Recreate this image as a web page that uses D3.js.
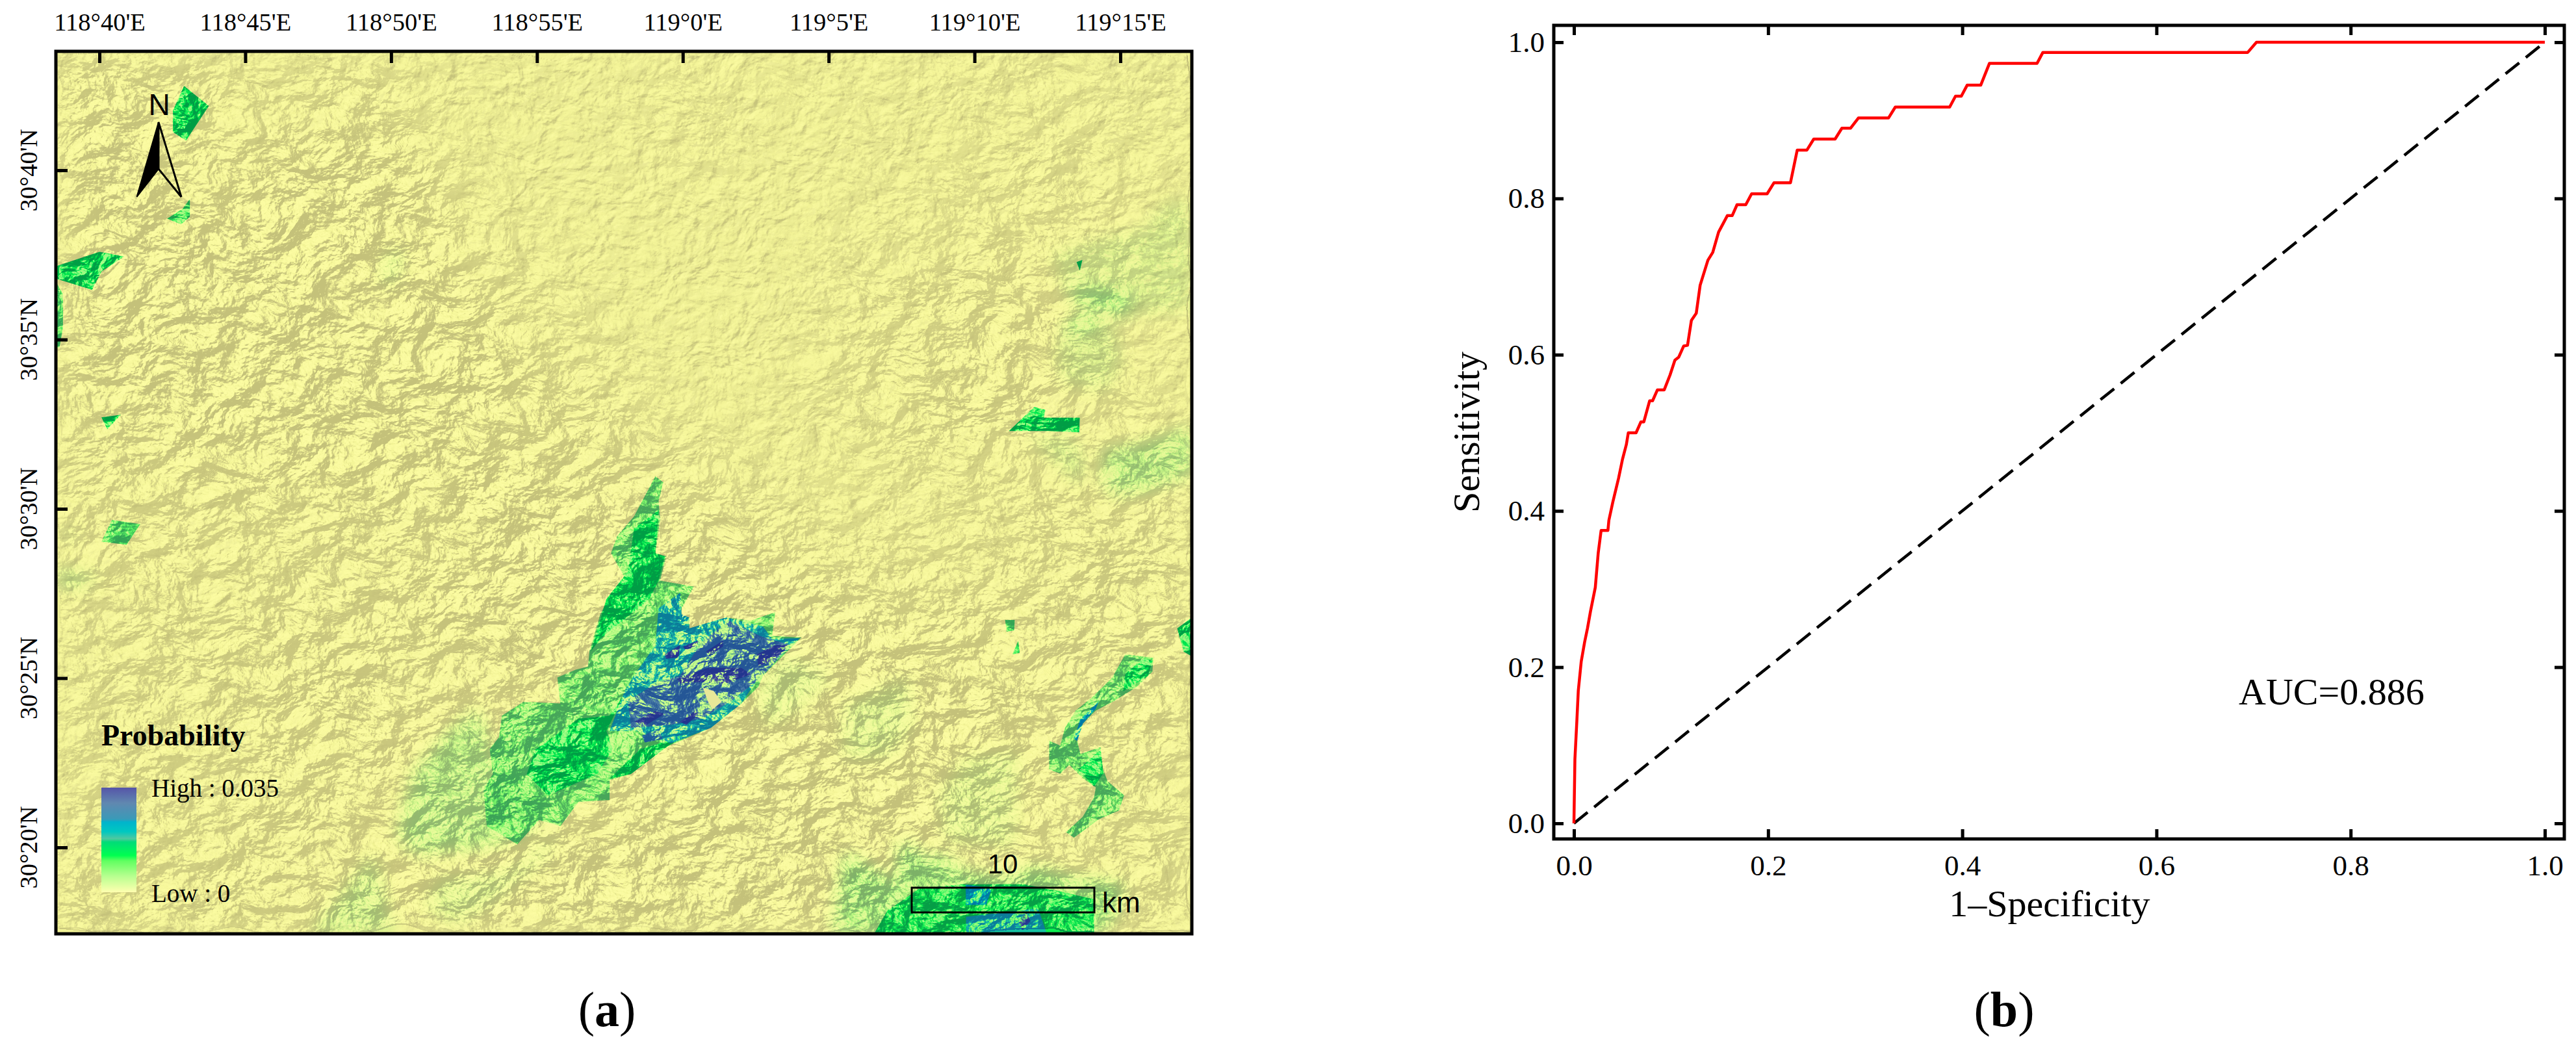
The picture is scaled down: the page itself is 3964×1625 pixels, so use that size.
<!DOCTYPE html>
<html>
<head>
<meta charset="utf-8">
<style>
html, body { margin: 0; padding: 0; background: #fff; }
svg { display: block; }
text { fill: #000; font-family: "Liberation Serif", serif; }
</style>
</head>
<body>
<script src="https://cdn.jsdelivr.net/npm/d3@7/dist/d3.min.js"></script>
<script>
// ROC curve
const rocFpr = [0, .001, .003, .0045, .0075, .011, .014, .017, .022, .025, .028, .035, .036, .040, .046, .050, .054, .056, .064, .069, .072, .078, .081, .086, .093, .099, .104, .108, .113, .117, .121, .126, .130, .138, .143, .149, .158, .163, .168, .177, .183, .199, .206, .223, .230, .240, .247, .269, .276, .285, .293, .324, .331, .387, .393, .399, .405, .419, .428, .477, .483, .694, .703, 1];
const rocTpr = [0, .082, .131, .170, .207, .232, .250, .271, .302, .346, .375, .375, .388, .411, .442, .466, .485, .500, .500, .514, .514, .541, .541, .555, .555, .574, .593, .597, .611, .612, .644, .653, .689, .721, .731, .757, .778, .778, .792, .792, .806, .806, .820, .820, .862, .862, .876, .876, .890, .890, .903, .903, .917, .917, .931, .931, .945, .945, .973, .973, .987, .987, 1, 1];
const rocTicks = [0, .2, .4, .6, .8, 1];

// map graticule, minutes past 118 deg E and past 30 deg N
const lonTicks = [40, 45, 50, 55, 60, 65, 70, 75];
const lonLabels = ["118°40'E", "118°45'E", "118°50'E", "118°55'E", "119°0'E", "119°5'E", "119°10'E", "119°15'E"];
const latTicks = [40, 35, 30, 25, 20];
const latLabels = ["30°40'N", "30°35'N", "30°30'N", "30°25'N", "30°20'N"];

// legend ramp
const legendValues = [.035, .0298, .0245, .0235, .0203, .0179, .0168, .0123, .0105, .0053, 0];
const legendColors = ["#5555a8", "#6088b0", "#3a9ab8", "#00b4cc", "#00c8c0", "#50c8a0", "#00dc78", "#00ff50", "#60ff60", "#b8ff90", "#ffffb0"];

// how rugged the hillshade looks, 0-9, per coarse cell of the map (by eye)
const reliefRows = [
  "7776654445553322221123332222223334443333",
  "7777765556664322221223332222222334443333",
  "7887766677775322111223332112222234444333",
  "7887777788887532111223331112222344554333",
  "7888777888888643221112221112233445555433",
  "7888888888888754322111211112334455554433",
  "7888888888888765432111111123445566654432",
  "7888888888888876543211111134556666665432",
  "7888888888888887554321111234556677765432",
  "7888888888888888665432111234566777765432",
  "7788888888888888766543211234566777765543",
  "6777888888888887776654322234556676655554",
  "6677777788888887777766544323445555555555",
  "6666777777787788887777655433344455566666",
  "6666666667777788888887776554444455666666",
  "5666666666777778888888877665555556667777",
  "5566666677777888888888888877666666677777",
  "5556666777777888888888888888777777777777",
  "5566677777777778888888888888888777777777",
  "5566677778887777788888888888888887777777",
  "5566677777877777778888888888888888777777",
  "5566666777777777777788888888888888777766",
  "5566667777777777777778888888888877776666",
  "5666666777777777777778888888888888776666",
  "5666667777777788888888888888888887766666",
  "6666677777778888888888888888888887766666",
  "6666777778888888888888888888887777666666"
];

// probability patches: value from the legend, outline in [lon, lat] minutes
const patchValues = [
  .0125, .0115, .0125, .011, .0125, .011, .004, .003, .003, .003,
  .0125, .0125, .0018, .0018, .002, .0045, .005, .0018, .002, .0045,
  .002, .0125, .002, .0045, .006, .012, .0105, .0125, .0125, .0125,
  .0125, .0105, .0125, .021, .0195, .021, .0195, .0345, .011, .0115,
  .027, .029, .035, .035, .035, .035, .035, .035, .035
];
const patchOutlines = [
  [[42.9,42.49],[43.75,41.9],[42.97,40.88],[42.52,41.13],[42.52,41.76]],
  [[43.1,39.15],[43.1,38.63],[42.8,38.4],[42.32,38.57],[42.85,38.86]],
  [[38.5,37.16],[40,37.59],[40.85,37.45],[40.07,37.01],[39.75,36.47],[38.5,36.8]],
  [[38.5,36.72],[38.75,36.34],[38.75,35.36],[38.63,34.76],[38.5,34.76]],
  [[40.07,32.7],[40.73,32.78],[40.27,32.35]],
  [[40.43,29.67],[41.4,29.55],[40.93,28.94],[40.07,29.03]],
  [[38.73,29.31],[39.22,29.21],[38.8,29.11]],
  [[49.96,37.58],[50.38,37.58],[50.1,36.7],[49.68,36.7]],
  [[38.5,28.22],[40,28.03],[39.27,27.63],[38.5,27.72]],
  [[47.24,17.45],[49.38,19.79],[50.1,17.45]],
  [[71.18,32.3],[72.05,33.01],[72.43,32.92],[72.38,32.69],[73.61,32.69],[73.59,32.26],[72.56,32.3]],
  [[76.95,26.47],[77.46,26.79],[77.46,25.64],[77.17,25.78]],
  [[76.62,39.08],[77.46,39.02],[77.46,35.9],[75.19,35.69],[74.37,35.76],[73.1,36.53],[72.65,37.49],[73.47,37.74],[74.97,38.12],[75.79,38.25]],
  [[73.03,35.32],[73.76,35.82],[74.81,35.43],[75.03,34.36],[74.52,33.51],[73.1,33.7],[72.79,34.55]],
  [[71.82,32.11],[73.25,32.17],[73.76,31.54],[73.7,30.71],[73.39,30.84],[72.49,31.67]],
  [[74.43,31.73],[75.79,31.92],[77.06,32.3],[77.46,32.44],[77.46,31.03],[76.24,30.64],[74.81,30.38],[74.43,30.84]],
  [[73.1,36.39],[73.76,36.53],[74.97,36.46],[75.41,36.2],[75.12,35.69],[73.61,36.01]],
  [[69.71,22.63],[71.49,22.82],[71.34,20],[69.02,20.19],[68.79,21.54]],
  [[65.56,24.22],[67.72,25],[67.79,23.59],[67.1,22.69],[65.56,22.63]],
  [[52.96,24.07],[51.91,23.35],[50.75,22.17],[50.44,21.08],[50.23,20.27],[50.96,19.81],[53.17,20],[54.54,20.36],[55.38,21.17],[53.59,22.53]],
  [[55.8,20.63],[54.96,19.9],[54.33,19.45],[53.49,19.18],[51.7,19.09],[51.17,18.28],[52.23,17.73],[53.59,18.46],[55.17,19.63]],
  [[73.5,37.29],[73.7,37.35],[73.61,37.04]],
  [[62.64,24.71],[63.48,25.7],[65.06,25.07],[64.11,24.25],[63.27,23.71],[62.75,23.8]],
  [[73.16,35.57],[73.84,35.69],[74.43,35.5],[73.92,35.24],[73.1,35.24]],
  [[65.56,19.81],[66.56,19.36],[67.32,18.91],[67.41,20.06],[67.79,20.13],[68.26,19.67],[68.95,19.75],[69.55,19.29],[71.09,19.1],[72.09,19.42],[73.25,19.1],[75.1,18.91],[74.79,17.95],[74.16,17.45],[65.14,17.45]],
  [[66.56,17.45],[67.02,18.14],[67.48,18.4],[68.1,18.78],[69.55,18.91],[71.71,18.91],[72.87,18.71],[74.1,18.47],[74.1,17.45]],
  [[53.8,23.89],[54.54,24.3],[55.8,24.25],[55.7,25.02],[56.33,25.25],[56.75,25.34],[56.8,25.79],[57.17,26.88],[57.54,27.52],[58.01,27.97],[57.54,28.69],[57.75,29.19],[58.33,29.78],[59.06,30.96],[59.33,30.78],[59.17,30.23],[59.22,29.69],[59.06,28.69],[59.43,28.6],[59.22,27.88],[60.38,27.7],[59.96,27.06],[59.91,26.79],[60.22,26.79],[60.22,26.47],[61.48,26.79],[62.33,26.7],[63.17,26.95],[63.06,26.25],[64.06,26.2],[62.75,25.07],[62.59,24.75],[62.01,24.25],[60.96,23.53],[59.48,22.99],[58.22,22.17],[57.49,21.99],[57.49,21.4],[56.43,21.35],[55.8,20.63],[55.07,20.81],[54.33,20.09],[53.28,20.63],[53.17,21.72],[53.49,22.17],[53.38,22.9],[53.7,23.26]],
  [[58.12,28.15],[58.33,29.42],[59.17,29.96],[59.06,28.69],[59.38,28.6],[59.17,27.88],[58.85,27.33],[57.17,26.16],[56.85,25.79],[57.38,27.33]],
  [[54.96,22.9],[56.43,23.8],[57.49,23.89],[58.01,24.53],[57.38,23.44],[57.59,22.9],[57.07,22.17],[55.38,21.54],[54.65,22.17]],
  [[57.49,22.03],[58.54,22.9],[59.59,23.17],[60.64,23.62],[59.48,22.99],[58.22,22.17]],
  [[75.17,25.12],[75.79,25.59],[76.1,25.51],[75.95,25.07],[75.1,24.61]],
  [[75.17,25.7],[76.13,25.6],[76.1,25.19],[75.56,24.74],[74.79,24.33],[74.16,24.04],[73.71,23.65],[73.52,23.15],[73.63,22.76],[74.32,22.96],[74.41,22.31],[74.56,21.96],[75.13,21.54],[74.95,21.09],[74.26,20.83],[73.41,20.29],[73.14,20.45],[73.71,20.9],[74.1,21.48],[74.16,21.77],[73.71,22.05],[73.25,22.44],[72.94,22.18],[72.56,22.3],[72.56,23.15],[72.94,23.01],[73.1,23.53],[73.47,24.04],[74.02,24.42],[74.71,25]],
  [[74.32,22.88],[74.41,22.18],[74.1,21.8],[73.56,22.3]],
  [[74.26,24.33],[73.63,23.78],[73.41,23.21],[73.52,23.15],[73.71,23.65],[74.16,24.1]],
  [[69.71,17.95],[72.18,18.2],[72.48,17.45],[69.71,17.45]],
  [[69.7,18.9],[70.6,18.8],[70.4,18.3],[69.7,18.3]],
  [[58.01,24.62],[58.33,25.07],[59.06,25.98],[59.17,27.06],[59.91,27.52],[59.96,26.88],[60.22,26.79],[60.22,26.47],[61.48,26.79],[62.75,26.52],[63.06,26.16],[64.01,26.18],[62.64,25.07],[62.01,24.25],[60.96,23.53],[59.59,23.07],[58.43,23.44],[57.49,23.44]],
  [[71.51,17.82],[71.78,18.08],[71.92,17.82],[71.64,17.56]],
  [[71.05,26.72],[71.38,26.72],[71.36,26.41],[71.1,26.37]],
  [[71.5,26.1],[71.55,25.75],[71.3,25.7]],
  [[58.6,23.3],[59.2,23.5],[59.3,23.2],[58.7,23.1]],
  [[59.91,25.07],[60.64,26.07],[61.59,26.7],[62.64,26.25],[63.69,25.98],[62.64,24.98],[61.69,24.34],[60.64,23.8],[59.59,23.62],[58.22,23.53],[58.12,24.34],[59.17,24.89]],
  [[59.8,24.98],[60.85,25.3],[62.01,25.3],[62.33,25.11],[61.48,24.84],[60.64,24.89],[59.91,24.84]],
  [[58.33,23.71],[59.06,24.03],[59.38,23.94],[58.75,23.62]],
  [[60.01,25.93],[60.54,26.11],[60.48,25.93],[60.12,25.79]],
  [[60.8,25.79],[61.38,26.11],[61.38,25.93],[60.91,25.66]],
  [[62.54,25.7],[63.17,25.98],[63.69,25.98],[63.06,25.52],[62.59,25.34]],
  [[59.91,23.71],[60.43,24.03],[60.54,23.94],[60.12,23.62]],
  [[59.38,25.7],[59.91,25.98],[59.85,25.61],[59.43,25.57]]
];
const holeOutlines = [[[60.69,24.71],[61.06,24.62],[61.33,24.3],[61.01,24.07],[60.85,24.34]]];

const W = 3964, H = 1625;
const svg = d3.select("body").append("svg").attr("width", W).attr("height", H);
svg.append("rect").attr("width", W).attr("height", H).attr("fill", "#fff");
const defs = svg.append("defs");

// ---------- panel (a) ----------
const mapBox = { left: 86, right: 1834, top: 79, bottom: 1437 };
const lonScale = d3.scaleLinear().domain([40, 75]).range([153, 1724]);
const latScale = d3.scaleLinear().domain([40, 20]).range([262, 1304]);
const mapW = mapBox.right - mapBox.left, mapH = mapBox.bottom - mapBox.top;

defs.append("clipPath").attr("id", "mapClip").append("rect")
  .attr("x", mapBox.left).attr("y", mapBox.top).attr("width", mapW).attr("height", mapH);

// Hillshade grain: SVG noise lit from the north-west. It is only a texture (fixed
// seed, no values come from it); where it shows strongly comes from reliefRows.
function addLight(filter, freq, octaves, seed, scale, result) {
  filter.append("feTurbulence").attr("type", "fractalNoise").attr("baseFrequency", freq)
    .attr("numOctaves", octaves).attr("seed", seed).attr("result", result + "N");
  filter.append("feTurbulence").attr("type", "fractalNoise").attr("baseFrequency", "0.009 0.011")
    .attr("numOctaves", 2).attr("seed", seed + 3).attr("result", result + "W");
  filter.append("feDisplacementMap").attr("in", result + "N").attr("in2", result + "W")
    .attr("scale", 45).attr("xChannelSelector", "R").attr("yChannelSelector", "G").attr("result", result + "D");
  let lit = filter.append("feDiffuseLighting").attr("in", result + "D")
    .attr("surfaceScale", scale).attr("diffuseConstant", 1).attr("lighting-color", "#fff").attr("result", result);
  lit.append("feDistantLight").attr("azimuth", 225).attr("elevation", 50);
}
function makeFilter(id) {
  return defs.append("filter").attr("id", id).attr("filterUnits", "userSpaceOnUse")
    .attr("x", mapBox.left).attr("y", mapBox.top).attr("width", mapW).attr("height", mapH)
    .attr("color-interpolation-filters", "sRGB");
}
// light level to hillshade tone, shadows stop at the olive of the reference
function addTone(filter, r, g, b) {
  let t = filter.append("feComponentTransfer").attr("in", "lit");
  t.append("feFuncR").attr("type", "table").attr("tableValues", r);
  t.append("feFuncG").attr("type", "table").attr("tableValues", g);
  t.append("feFuncB").attr("type", "table").attr("tableValues", b);
}
// patch layer: colour darkens on shaded slopes and thins out on sunny ones
function addPatchShade(filter, alphaValues, blur) {
  let source = "SourceGraphic";
  if (blur) {
    filter.append("feGaussianBlur").attr("in", "SourceGraphic").attr("stdDeviation", blur).attr("result", "soft");
    source = "soft";
  }
  let t = filter.append("feComponentTransfer").attr("in", "lit").attr("result", "shade");
  t.append("feFuncR").attr("type", "table").attr("tableValues", ".4 .4 .55 .9 1");
  t.append("feFuncG").attr("type", "table").attr("tableValues", ".62 .62 .72 .93 1");
  t.append("feFuncB").attr("type", "table").attr("tableValues", ".85 .85 .88 .96 1");
  filter.append("feComposite").attr("in", source).attr("in2", "shade")
    .attr("operator", "arithmetic").attr("k1", 1).attr("result", "dark");
  filter.append("feColorMatrix").attr("in", "lit").attr("type", "matrix")
    .attr("values", "0 0 0 0 1  0 0 0 0 1  0 0 0 0 1  " + alphaValues).attr("result", "alphaMask");
  filter.append("feComposite").attr("in", "dark").attr("in2", "alphaMask").attr("operator", "in");
}
const terrainFreq = "0.02 0.027", terrainScale = 27;

let terrain = makeFilter("terrain");
addLight(terrain, terrainFreq, 5, 11, terrainScale, "lit");
addTone(terrain, ".77 .77 .84 .955 .99", ".76 .76 .83 .958 .99", ".48 .48 .53 .59 .64");

let flat = makeFilter("flatGrain");
addLight(flat, "0.05 0.06", 3, 4, 3, "lit");
addTone(flat, ".77 .77 .80 .945 .99", ".76 .76 .79 .948 .99", ".48 .48 .50 .585 .64");

let streakFaint = makeFilter("streakFaint");
addLight(streakFaint, terrainFreq, 5, 11, terrainScale, "lit");
addPatchShade(streakFaint, "-3 0 0 0 3.3", 12);

let streak = makeFilter("streak");
addLight(streak, terrainFreq, 5, 11, terrainScale, "lit");
addPatchShade(streak, "-3 0 0 0 3.3");

let streakHigh = makeFilter("streakHigh");
addLight(streakHigh, terrainFreq, 5, 11, terrainScale, "lit");
addPatchShade(streakHigh, "-5 0 0 0 4.7");

defs.append("filter").attr("id", "soft").attr("filterUnits", "userSpaceOnUse")
  .attr("x", mapBox.left - 60).attr("y", mapBox.top - 60).attr("width", mapW + 120).attr("height", mapH + 120)
  .append("feGaussianBlur").attr("stdDeviation", 22);

const reliefX = d3.scaleBand().domain(d3.range(reliefRows[0].length)).range([mapBox.left, mapBox.right]);
const reliefY = d3.scaleBand().domain(d3.range(reliefRows.length)).range([mapBox.top, mapBox.bottom]);
const reliefCells = reliefRows.flatMap((row, r) => row.split("").map((c, k) => ({ r, k, v: +c })));
const reliefOpacity = d3.scaleLinear().domain([0, 8]).range([0, 1]);

let reliefMask = defs.append("mask").attr("id", "reliefMask").attr("maskUnits", "userSpaceOnUse")
  .attr("x", mapBox.left).attr("y", mapBox.top).attr("width", mapW).attr("height", mapH)
  .append("g").attr("filter", "url(#soft)");
reliefMask.selectAll("rect").data(reliefCells).join("rect")
  .attr("x", d => reliefX(d.k)).attr("y", d => reliefY(d.r))
  .attr("width", reliefX.bandwidth() + 1).attr("height", reliefY.bandwidth() + 1)
  .attr("fill", "#fff").attr("fill-opacity", d => reliefOpacity(d.v));

const map = svg.append("g").attr("clip-path", "url(#mapClip)");
map.append("rect").attr("x", mapBox.left).attr("y", mapBox.top).attr("width", mapW).attr("height", mapH)
  .attr("filter", "url(#flatGrain)");
map.append("g").attr("mask", "url(#reliefMask)").append("rect")
  .attr("x", mapBox.left).attr("y", mapBox.top).attr("width", mapW).attr("height", mapH)
  .attr("filter", "url(#terrain)");

// below the legend's bright green the raster only gets more see-through
const probColor = d3.scaleLinear().domain(legendValues.slice().reverse()).range(legendColors.slice().reverse());
const probOpacity = d3.scaleLinear().domain([0, .0105, .012]).range([0, .8, 1]).clamp(true);
const outline = d3.line().x(d => lonScale(d[0])).y(d => latScale(d[1]));
const patches = patchOutlines.map((pts, i) => ({ pts, value: patchValues[i] }))
  .sort((a, b) => a.value - b.value);

function drawPatches(items, filterId) {
  map.append("g").attr("filter", `url(#${filterId})`).selectAll("path").data(items).join("path")
    .attr("d", d => outline(d.pts) + "Z")
    .attr("fill", d => probColor(Math.max(d.value, .0105)))
    .attr("fill-opacity", d => probOpacity(d.value));
}
drawPatches(patches.filter(d => d.value < .007), "streakFaint");
drawPatches(patches.filter(d => d.value >= .007 && d.value < .016), "streak");
drawPatches(patches.filter(d => d.value >= .016), "streakHigh");

map.append("g").selectAll("path").data(holeOutlines).join("path")
  .attr("d", d => outline(d) + "Z").attr("fill", "#e8e898");

// frame and graticule ticks
const axisTop = d3.axisTop(lonScale).tickValues(lonTicks).tickSizeOuter(0).tickSizeInner(-18)
  .tickPadding(32).tickFormat((d, i) => lonLabels[i]);
let gTop = svg.append("g").attr("transform", `translate(0,${mapBox.top})`).call(axisTop);
gTop.select(".domain").remove();
gTop.selectAll("line").attr("stroke", "#000").attr("stroke-width", 5);
gTop.selectAll("text").attr("font-size", 38.5).attr("font-family", "Liberation Serif");

const axisLeft = d3.axisLeft(latScale).tickValues(latTicks).tickSizeOuter(0).tickSizeInner(-18)
  .tickFormat("");
let gLeft = svg.append("g").attr("transform", `translate(${mapBox.left},0)`).call(axisLeft);
gLeft.select(".domain").remove();
gLeft.selectAll("line").attr("stroke", "#000").attr("stroke-width", 5);
svg.append("g").selectAll("text").data(latTicks).join("text")
  .attr("transform", d => `translate(57,${latScale(d)}) rotate(-90)`)
  .attr("text-anchor", "middle").attr("font-size", 38.5)
  .text((d, i) => latLabels[i]);

svg.append("rect").attr("x", mapBox.left).attr("y", mapBox.top).attr("width", mapW).attr("height", mapH)
  .attr("fill", "none").attr("stroke", "#000").attr("stroke-width", 5);

// north arrow
const northLeft = d3.path();
northLeft.moveTo(244, 188); northLeft.lineTo(210.5, 303); northLeft.lineTo(244, 260); northLeft.closePath();
svg.append("path").attr("d", northLeft.toString()).attr("fill", "#000").attr("stroke", "#000").attr("stroke-width", 2);
const northRight = d3.path();
northRight.moveTo(244, 188); northRight.lineTo(279, 303); northRight.lineTo(244, 260); northRight.closePath();
svg.append("path").attr("d", northRight.toString()).attr("fill", "none").attr("stroke", "#000").attr("stroke-width", 3);
svg.append("text").attr("x", 245).attr("y", 177).attr("text-anchor", "middle")
  .style("font-family", "Liberation Sans").attr("font-size", 46).text("N");

// probability legend
const grad = defs.append("linearGradient").attr("id", "probRamp").attr("x1", 0).attr("y1", 0).attr("x2", 0).attr("y2", 1);
grad.selectAll("stop").data(legendValues).join("stop")
  .attr("offset", d => 1 - d / legendValues[0])
  .attr("stop-color", (d, i) => legendColors[i]);
svg.append("rect").attr("x", 156).attr("y", 1212).attr("width", 54).attr("height", 161).attr("fill", "url(#probRamp)");
svg.append("text").attr("x", 156).attr("y", 1147).attr("font-size", 46).attr("font-weight", "bold").text("Probability");
svg.append("text").attr("x", 233).attr("y", 1226).attr("font-size", 39).text("High : 0.035");
svg.append("text").attr("x", 233).attr("y", 1388).attr("font-size", 39).text("Low : 0");

// scale bar
svg.append("rect").attr("x", 1403).attr("y", 1366).attr("width", 281).attr("height", 38)
  .attr("fill", "none").attr("stroke", "#000").attr("stroke-width", 3);
svg.append("text").attr("x", 1543).attr("y", 1344).attr("text-anchor", "middle")
  .style("font-family", "Liberation Sans").attr("font-size", 42).text("10");
svg.append("text").attr("x", 1696).attr("y", 1404)
  .style("font-family", "Liberation Sans").attr("font-size", 44).text("km");

// caption helper, the letter is bold and the brackets are not
function caption(x, letter) {
  let t = svg.append("text").attr("x", x).attr("y", 1579).attr("text-anchor", "middle").attr("font-size", 76);
  t.append("tspan").text("(");
  t.append("tspan").attr("font-weight", "bold").text(letter);
  t.append("tspan").text(")");
}
caption(934, "a");
caption(3084, "b");

// ---------- panel (b) ----------
const plotBox = { left: 2391, right: 3946, top: 39, bottom: 1291 };
const fprScale = d3.scaleLinear().domain([0, 1]).range([2422, 3916]);
const tprScale = d3.scaleLinear().domain([0, 1]).range([1267, 65]);
const fmt = d3.format(".1f");

function styleAxis(g, size) {
  g.select(".domain").remove();
  g.selectAll("line").attr("stroke", "#000").attr("stroke-width", 5);
  g.selectAll("text").attr("font-size", size).attr("font-family", "Liberation Serif").attr("fill", "#000");
}
styleAxis(svg.append("g").attr("transform", `translate(0,${plotBox.bottom})`)
  .call(d3.axisBottom(fprScale).tickValues(rocTicks).tickFormat(fmt).tickSizeOuter(0).tickSizeInner(-15).tickPadding(24)), 45);
styleAxis(svg.append("g").attr("transform", `translate(${plotBox.left},0)`)
  .call(d3.axisLeft(tprScale).tickValues(rocTicks).tickFormat(fmt).tickSizeOuter(0).tickSizeInner(-15).tickPadding(14)), 45);
styleAxis(svg.append("g").attr("transform", `translate(0,${plotBox.top})`)
  .call(d3.axisTop(fprScale).tickValues(rocTicks).tickFormat("").tickSizeOuter(0).tickSizeInner(-15)), 45);
styleAxis(svg.append("g").attr("transform", `translate(${plotBox.right},0)`)
  .call(d3.axisRight(tprScale).tickValues(rocTicks).tickFormat("").tickSizeOuter(0).tickSizeInner(-15)), 45);

svg.append("rect").attr("x", plotBox.left).attr("y", plotBox.top)
  .attr("width", plotBox.right - plotBox.left).attr("height", plotBox.bottom - plotBox.top)
  .attr("fill", "none").attr("stroke", "#000").attr("stroke-width", 5);

const rocLine = d3.line().x(d => fprScale(d[0])).y(d => tprScale(d[1]));
svg.append("path").attr("d", rocLine([[0, 0], [1, 1]])).attr("fill", "none")
  .attr("stroke", "#000").attr("stroke-width", 4.5).attr("stroke-dasharray", "27 13");
svg.append("path").attr("d", rocLine(d3.zip(rocFpr, rocTpr))).attr("fill", "none")
  .attr("stroke", "#ff0000").attr("stroke-width", 4.5).attr("stroke-linejoin", "round");

svg.append("text").attr("x", 3154).attr("y", 1410).attr("text-anchor", "middle").attr("font-size", 58).text("1–Specificity");
svg.append("text").attr("transform", "translate(2276,665) rotate(-90)").attr("text-anchor", "middle")
  .attr("font-size", 58).text("Sensitivity");
svg.append("text").attr("x", 3445).attr("y", 1084).attr("font-size", 58).text("AUC=0.886");
</script>
</body>
</html>
